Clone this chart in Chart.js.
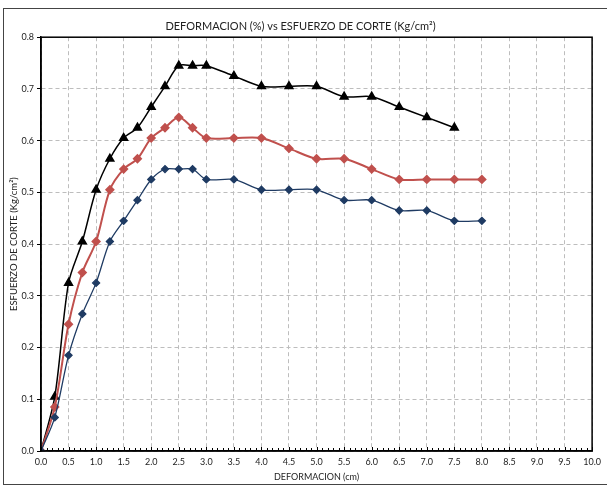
<!DOCTYPE html>
<html lang="en">
<head>
    <meta charset="UTF-8">
    <title>Deformacion vs Esfuerzo de Corte</title>
    <script src="https://cdn.jsdelivr.net/npm/chart.js"></script>
    <style>
        body { margin: 0; background: #fff; }
        #frame { position: absolute; left: 3px; top: 8px; width: 607px; height: 475px; border-left: 1px solid #444; border-top: 1px solid #444; border-bottom: 1px solid #444; }
        #wrap { position: absolute; left: 0; top: 0; width: 607px; height: 488px; }
    </style>
</head>
<body>
    <div id="frame"></div>
    <div id="wrap"><canvas id="myChart" width="607" height="488"></canvas></div>
    <script>
        // deformacion (cm)
        const deformacion = [0, 0.25, 0.5, 0.75, 1.0, 1.25, 1.5, 1.75, 2.0, 2.25, 2.5, 2.75, 3.0, 3.5, 4.0, 4.5, 5.0, 5.5, 6.0, 6.5, 7.0, 7.5, 8.0];

        // esfuerzo de corte (Kg/cm2) for each sample
        const esfuerzoNegro = [0, 0.105, 0.325, 0.405, 0.505, 0.565, 0.605, 0.625, 0.665, 0.705, 0.745, 0.745, 0.745, 0.725, 0.705, 0.705, 0.705, 0.685, 0.685, 0.665, 0.645, 0.625];
        const esfuerzoRojo = [0, 0.085, 0.245, 0.345, 0.405, 0.505, 0.545, 0.565, 0.605, 0.625, 0.645, 0.625, 0.605, 0.605, 0.605, 0.585, 0.565, 0.565, 0.545, 0.525, 0.525, 0.525, 0.525];
        const esfuerzoAzul = [0, 0.065, 0.185, 0.265, 0.325, 0.405, 0.445, 0.485, 0.525, 0.545, 0.545, 0.545, 0.525, 0.525, 0.505, 0.505, 0.505, 0.485, 0.485, 0.465, 0.465, 0.445, 0.445];

        const xTicks = [0, 0.5, 1, 1.5, 2, 2.5, 3, 3.5, 4, 4.5, 5, 5.5, 6, 6.5, 7, 7.5, 8, 8.5, 9, 9.5, 10];

        function toPoints(ys) {
            return ys.map((y, i) => ({ x: deformacion[i], y: y }));
        }

        const font = "Lato, 'Liberation Sans', sans-serif";

        // border around plot area + small x ticks
        const framePlugin = {
            id: "frame",
            afterDraw(chart) {
                const ctx = chart.ctx;
                const a = chart.chartArea;
                const xs = chart.scales.x;
                ctx.save();
                ctx.strokeStyle = "#000";
                ctx.lineWidth = 1.5;
                ctx.strokeRect(a.left, a.top, a.right - a.left, a.bottom - a.top);
                ctx.lineWidth = 1;
                ctx.beginPath();
                for (let v = 0; v <= 100; v++) {
                    const px = Math.round(xs.getPixelForValue(v / 10)) + 0.5;
                    const len = v % 5 === 0 ? 4 : 3;
                    ctx.moveTo(px, a.bottom);
                    ctx.lineTo(px, a.bottom - len);
                }
                ctx.stroke();
                ctx.restore();
            }
        };

        const ctx = document.getElementById("myChart").getContext("2d");
        const myChart = new Chart(ctx, {
            type: "scatter",
            data: {
                datasets: [{
                    label: "Muestra 3",
                    data: toPoints(esfuerzoAzul),
                    borderColor: "#1F3B63",
                    backgroundColor: "#1F3B63",
                    borderWidth: 1.3,
                    pointStyle: "rectRot",
                    pointRadius: 3.5,
                    showLine: true,
                    tension: 0.3
                }, {
                    label: "Muestra 2",
                    data: toPoints(esfuerzoRojo),
                    borderColor: "#C0504D",
                    backgroundColor: "#C0504D",
                    borderWidth: 2,
                    pointStyle: "rectRot",
                    pointRadius: 3.5,
                    showLine: true,
                    tension: 0.3
                }, {
                    label: "Muestra 1",
                    data: toPoints(esfuerzoNegro),
                    borderColor: "#000000",
                    backgroundColor: "#000000",
                    borderWidth: 1.5,
                    pointStyle: "triangle",
                    pointRadius: 4.5,
                    showLine: true,
                    tension: 0.3
                }]
            },
            options: {
                responsive: false,
                animation: false,
                layout: { padding: { left: 8, right: 14, top: 4, bottom: 6 } },
                plugins: {
                    legend: { display: false },
                    tooltip: { enabled: false },
                    title: {
                        display: true,
                        text: "DEFORMACION (%) vs ESFUERZO DE CORTE (Kg/cm²)",
                        color: "#222",
                        font: { family: font, size: 11, weight: "normal" },
                        padding: { top: 16, bottom: 4 }
                    }
                },
                scales: {
                    x: {
                        type: "linear",
                        min: 0,
                        max: 10,
                        afterBuildTicks: (scale) => { scale.ticks = xTicks.map(v => ({ value: v })); },
                        afterFit: (scale) => { scale.height = 31; },
                        title: {
                            display: true,
                            text: "DEFORMACION (cm)",
                            color: "#222",
                            font: { family: font, size: 9 },
                            padding: { top: 2, bottom: 0 }
                        },
                        grid: { color: "#BDBDBD", lineWidth: 1, drawTicks: false },
                        border: { display: true, color: "#000", width: 1.5, dash: [4, 3] },
                        ticks: {
                            color: "#222",
                            font: { family: font, size: 9 },
                            padding: 6,
                            maxRotation: 0,
                            autoSkip: false,
                            callback: (v) => Number(v).toFixed(1)
                        }
                    },
                    y: {
                        min: 0,
                        max: 0.8,
                        afterFit: (scale) => { scale.width = 33; },
                        title: {
                            display: true,
                            text: "ESFUERZO DE CORTE (Kg/cm²)",
                            color: "#222",
                            font: { family: font, size: 9.5 },
                            padding: { top: 0, bottom: 0 }
                        },
                        grid: { color: "#BDBDBD", lineWidth: 1, tickLength: 4, tickColor: "#000" },
                        border: { display: true, color: "#000", width: 1.5, dash: [4, 3] },
                        ticks: {
                            color: "#222",
                            font: { family: font, size: 9 },
                            stepSize: 0.1,
                            padding: 3,
                            callback: (v) => Number(v).toFixed(1)
                        }
                    }
                }
            },
            plugins: [framePlugin]
        });
    </script>
</body>
</html>
